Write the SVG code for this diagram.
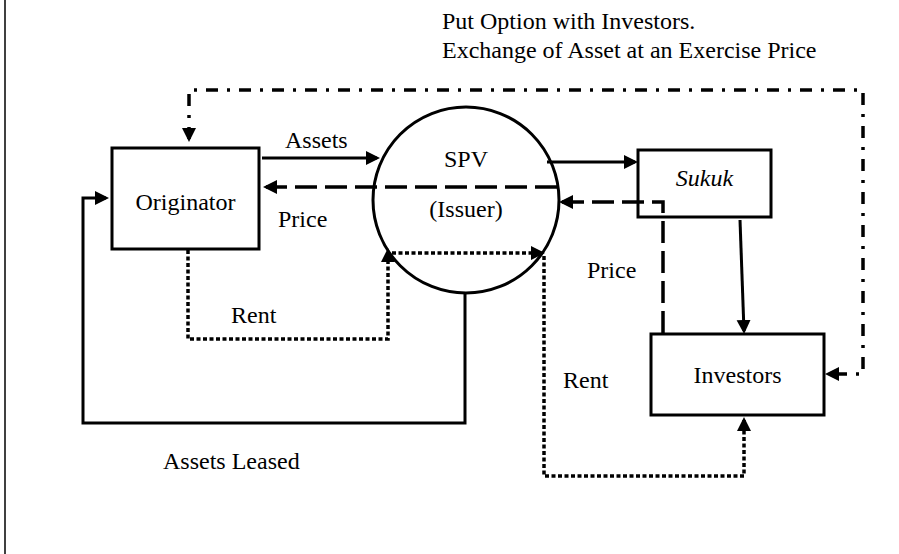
<svg xmlns="http://www.w3.org/2000/svg" width="899" height="554" viewBox="0 0 899 554">
<defs>
<style>
.t{font-family:"Liberation Serif","Times New Roman",serif;font-size:24px;fill:#000}
.m{text-anchor:middle}
.box{fill:none;stroke:#000;stroke-width:3}
.ln{fill:none;stroke:#000;stroke-width:3}
.dash{fill:none;stroke:#000;stroke-width:3.5;stroke-dasharray:22 8}
.dot{fill:none;stroke:#000;stroke-width:3.5;stroke-dasharray:4 2.5}
.dd{fill:none;stroke:#000;stroke-width:3.5;stroke-dasharray:12 9 3 9}
</style>
<marker id="ah" markerUnits="userSpaceOnUse" markerWidth="16" markerHeight="16" refX="11" refY="7" orient="auto-start-reverse" viewBox="0 0 16 16">
<path d="M0,0 L14,7 L0,14 z" fill="#000"/>
</marker>
</defs>
<rect width="899" height="554" fill="#fff"/>
<line x1="5" y1="0" x2="5" y2="554" stroke="#000" stroke-width="1.5"/>
<text class="t" x="442" y="29">Put Option with Investors.</text>
<text class="t" x="442" y="58">Exchange of Asset at an Exercise Price</text>

<g id="originator">
<rect class="box" x="112" y="148" width="147" height="101"/>
<text class="t m" x="185.5" y="210">Originator</text>
</g>
<g id="spv">
<circle class="box" cx="466" cy="200" r="93"/>
<text class="t m" x="466" y="167">SPV</text>
<text class="t m" x="466" y="217">(Issuer)</text>
</g>
<g id="sukuk">
<rect class="box" x="638" y="150" width="133" height="67"/>
<text class="t m" x="704.5" y="186" font-style="italic">Sukuk</text>
</g>
<g id="investors">
<rect class="box" x="651" y="334" width="173" height="81"/>
<text class="t m" x="737.5" y="383">Investors</text>
</g>

<g id="connectors">
<path class="dd" d="M189,139 L189,90 L863,90 L863,374 L828,374" marker-start="url(#ah)" marker-end="url(#ah)"/>
<path class="ln" d="M262,158 L377,158" marker-end="url(#ah)"/>
<path class="dash" d="M557,187 L266,187" marker-end="url(#ah)"/>
<path class="ln" d="M547,162 L635,162" marker-end="url(#ah)"/>
<path class="ln" d="M740,220 L744,331" marker-end="url(#ah)"/>
<path class="dash" d="M663,333 L663,202 L562,202" marker-end="url(#ah)"/>
<path class="dot" d="M188,250 L188,339 L388,339 L388,251" marker-end="url(#ah)"/>
<path class="dot" d="M392,253 L542,253" marker-end="url(#ah)"/>
<path class="dot" d="M544,256 L544,476 L744,476 L744,420" marker-end="url(#ah)"/>
<path class="ln" d="M465,293 L465,423 L83,423 L83,198 L106,198" marker-end="url(#ah)"/>
</g>

<text class="t" x="285" y="148">Assets</text>
<text class="t" x="278" y="227">Price</text>
<text class="t" x="587" y="278">Price</text>
<text class="t" x="231" y="323">Rent</text>
<text class="t" x="563" y="388">Rent</text>
<text class="t" x="163" y="469">Assets Leased</text>
</svg>
